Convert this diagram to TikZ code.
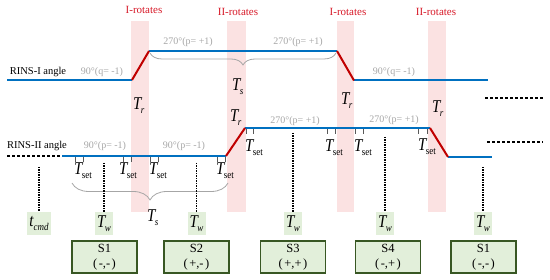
\documentclass[tikz,border=0pt]{standalone}
\usepackage{graphicx}
\usepackage{fontspec}
\setmainfont{Liberation Serif}
\usetikzlibrary{decorations.pathreplacing}
\definecolor{lineblue}{RGB}{0,112,192}
\definecolor{rampred}{RGB}{192,0,0}
\definecolor{bandpink}{RGB}{251,226,226}
\definecolor{graytxt}{RGB}{166,166,166}
\definecolor{greenfill}{RGB}{226,239,218}
\definecolor{greenedge}{RGB}{56,87,35}
\definecolor{rottxt}{RGB}{215,25,40}
\newcommand{\Tvar}[1]{\scalebox{1}[1.2]{\fontsize{15}{15}\selectfont\itshape T}\kern-0.6pt\raisebox{-3.5pt}{\scalebox{1}[1.15]{\fontsize{9}{9}\selectfont #1}}}
\newcommand{\tcmdlabel}{\scalebox{1}[1.2]{\fontsize{15}{15}\selectfont\itshape t}\raisebox{-3.5pt}{\scalebox{1}[1.15]{\fontsize{9}{9}\selectfont\itshape cmd}}}
\tikzset{
  band/.style={fill=bandpink, draw=none},
  blueline/.style={draw=lineblue, line width=2pt},
  ramp/.style={draw=rampred, line width=2pt},
  rotlabel/.style={text=rottxt, font=\fontsize{11}{11}\selectfont, inner sep=0pt},
  anglabel/.style={text=graytxt, font=\fontsize{10}{10}\selectfont, inner sep=0pt},
  axislabel/.style={font=\fontsize{10.5}{10.5}\selectfont, inner sep=0pt},
  ticksty/.style={draw=black!65, line width=0.6pt},
  dotline/.style={draw=black, line width=1.2pt, dash pattern=on 1.2pt off 1.3pt},
  dashline/.style={draw=black, line width=1.5pt, dash pattern=on 3pt off 2pt},
  twbox/.style={fill=greenfill, minimum width=18pt, minimum height=23pt, inner sep=0pt},
  sbox/.style={fill=greenfill, draw=greenedge, line width=1.5pt, minimum width=65pt, minimum height=32pt, align=center, inner sep=0pt, font=\fontsize{12.5}{14.5}\selectfont},
  bracegray/.style={draw=graytxt, line width=0.8pt, decorate},
  tlab/.style={anchor=base west, inner sep=0pt},
}
\begin{document}
\begin{tikzpicture}[x=1pt,y=-1pt]
\useasboundingbox (0,0) rectangle (550,280);
% pink bands
\path[band] (131,21) rectangle (149,212);
\path[band] (227,21) rectangle (246,212);
\path[band] (337,21) rectangle (354,212);
\path[band] (428,21) rectangle (446,212);
% rotate labels
\node[rotlabel] (r1) at (144,10) {I-rotates};
\node[rotlabel] (r2) at (238,12) {II-rotates};
\node[rotlabel] (r3) at (348,12) {I-rotates};
\node[rotlabel] (r4) at (436,12) {II-rotates};
% RINS-I line
\coordinate (a0) at (7,80);
\coordinate (a1) at (132,80);
\coordinate (a2) at (149,51);
\coordinate (a3) at (337,51);
\coordinate (a4) at (354,80.5);
\coordinate (a5) at (488,80.5);
\draw[blueline] (a0) -- (a1);
\draw[blueline] (a2) -- (a3);
\draw[blueline] (a4) -- (a5);
\draw[ramp] (a1) -- (a2);
\draw[ramp] (a3) -- (a4);
% RINS-II line
\coordinate (b0) at (7,156);
\coordinate (b1) at (62,156);
\coordinate (b2) at (226,156);
\coordinate (b3) at (245,128);
\coordinate (b4) at (430,128);
\coordinate (b5) at (448,157);
\coordinate (b6) at (492,157);
\draw[dashline] (b0) -- (b1);
\draw[blueline] (b1) -- (b2);
\draw[blueline] (b3) -- (b4);
\draw[blueline] (b5) -- (b6);
\draw[ramp] (b2) -- (b3);
\draw[ramp] (b4) -- (b5);
% right dashed continuations
\coordinate (c1) at (485,98);
\coordinate (c2) at (543,98);
\coordinate (c3) at (487,142);
\coordinate (c4) at (543,142);
\draw[dashline] (c1) -- (c2);
\draw[dashline] (c3) -- (c4);
% axis labels
\node[axislabel] (l1) at (38,72) {RINS-I angle};
\node[axislabel] (l2) at (37,146) {RINS-II angle};
% angle labels
\node[anglabel] (g1) at (102,72) {90°(q= -1)};
\node[anglabel] (g2) at (188,42) {270°(p= +1)};
\node[anglabel] (g3) at (298,42) {270°(p= +1)};
\node[anglabel] (g4) at (394,72) {90°(q= -1)};
\node[anglabel] (g5) at (105,146) {90°(p= -1)};
\node[anglabel] (g6) at (184,146) {90°(p= -1)};
\node[anglabel] (g7) at (295,121) {270°(p= +1)};
\node[anglabel] (g8) at (394,120) {270°(p= +1)};
% ticks lower row
\foreach \x in {75,83,123,131,150,158,217,225} {\draw[ticksty] (\x,157) -- (\x,162);}
% ticks upper row
\foreach \x in {246,253,327,335,355,363,418,427} {\draw[ticksty] (\x,129) -- (\x,134);}
% T_set labels
\node[tlab] (s1) at (74,175) {\Tvar{set}};
\node[tlab] (s2) at (119,175) {\Tvar{set}};
\node[tlab] (s3) at (149,175) {\Tvar{set}};
\node[tlab] (s4) at (216,175) {\Tvar{set}};
\node[tlab] (s5) at (245,152) {\Tvar{set}};
\node[tlab] (s6) at (325,152) {\Tvar{set}};
\node[tlab] (s7) at (354,152) {\Tvar{set}};
\node[tlab] (s8) at (418,151) {\Tvar{set}};
% T_r and T_s labels
\node[tlab] (tr1) at (133,110) {\Tvar{\itshape r}};
\node[tlab] (tr2) at (230,122) {\Tvar{\itshape r}};
\node[tlab] (tr3) at (341,105) {\Tvar{\itshape r}};
\node[tlab] (tr4) at (432,113) {\Tvar{\itshape r}};
\node[tlab] (ts1) at (232,91) {\Tvar{\itshape s}};
\node[tlab] (ts2) at (147,222) {\Tvar{\itshape s}};
% braces
\coordinate (br1a) at (150,53);
\coordinate (br1b) at (336,53);
\draw[bracegray, decoration={brace, mirror, amplitude=12pt}] (br1a) -- (br1b);
\coordinate (br2a) at (72,183);
\coordinate (br2b) at (228,183);
\draw[bracegray, decoration={brace, mirror, amplitude=17pt}] (br2a) -- (br2b);
% T_w / t_cmd boxes and dotted lines
\node[twbox, minimum width=24pt] (tc) at (39,223.5) {\tcmdlabel};
\node[twbox] (tw1) at (104,223.5) {\Tvar{\itshape w}};
\node[twbox] (tw2) at (196.5,223.5) {\Tvar{\itshape w}};
\node[twbox] (tw3) at (293,223.5) {\Tvar{\itshape w}};
\node[twbox] (tw4) at (385,223.5) {\Tvar{\itshape w}};
\node[twbox] (tw5) at (483,223.5) {\Tvar{\itshape w}};
\coordinate (dc) at (39,167);
\coordinate (d1) at (104,163);
\coordinate (d2) at (196.5,163);
\coordinate (d3) at (293,133);
\coordinate (d4) at (385,137);
\coordinate (d5) at (483,167);
\draw[dotline] (dc) -- (tc.north);
\draw[dotline] (d1) -- (tw1.north);
\draw[dotline] (d2) -- (tw2.north);
\draw[dotline] (d3) -- (tw3.north);
\draw[dotline] (d4) -- (tw4.north);
\draw[dotline] (d5) -- (tw5.north);
% state boxes
\node[sbox] (S1) at (104.5,257) {S1\\(\hspace{1.5pt}-,-\hspace{1.5pt})};
\node[sbox] (S2) at (196.5,257) {S2\\(\hspace{1.5pt}+,-\hspace{1.5pt})};
\node[sbox] (S3) at (293,257) {S3\\(\hspace{1.5pt}+,+\hspace{1.5pt})};
\node[sbox] (S4) at (388,257) {S4\\(\hspace{1.5pt}-,+\hspace{1.5pt})};
\node[sbox] (S5) at (483.5,257) {S1\\(\hspace{1.5pt}-,-\hspace{1.5pt})};
\end{tikzpicture}
\end{document}
